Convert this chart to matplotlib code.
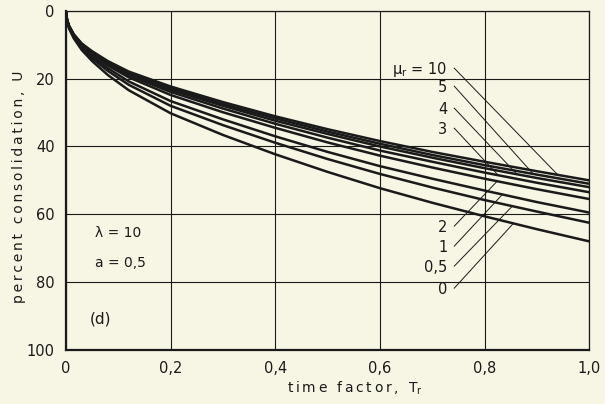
import numpy as np
import matplotlib
matplotlib.use("Agg")
import matplotlib.pyplot as plt

# time factor T_r
T = [0, 0.002, 0.006, 0.015, 0.03, 0.05, 0.08, 0.12, 0.2, 0.3,
     0.4, 0.5, 0.6, 0.7, 0.8, 0.9, 1.0]

# percent consolidation U for each mu_r
U_mu10 = [0, 2.5, 4.4, 6.9, 9.6, 11.9, 14.8, 17.9, 22.3, 26.9,
          31.1, 34.9, 38.4, 41.6, 44.5, 47.3, 50.0]
U_mu5 = [0, 2.5, 4.5, 7.0, 9.7, 12.1, 15.1, 18.2, 22.8, 27.5,
         31.7, 35.6, 39.2, 42.5, 45.5, 48.3, 51.0]
U_mu4 = [0, 2.6, 4.5, 7.1, 9.9, 12.3, 15.3, 18.5, 23.3, 28.0,
         32.4, 36.3, 40.0, 43.3, 46.4, 49.3, 52.0]
U_mu3 = [0, 2.6, 4.6, 7.2, 10.1, 12.6, 15.6, 19.0, 23.9, 28.8,
         33.3, 37.4, 41.2, 44.5, 47.7, 50.7, 53.5]
U_mu2 = [0, 2.7, 4.7, 7.3, 10.3, 12.9, 16.1, 19.6, 24.8, 29.9,
         34.5, 38.8, 42.7, 46.2, 49.5, 52.6, 55.5]
U_mu1 = [0, 2.8, 4.9, 7.6, 10.7, 13.5, 16.9, 20.8, 26.6, 32.0,
         37.0, 41.6, 45.8, 49.5, 53.0, 56.4, 59.5]
U_mu05 = [0, 2.9, 5.0, 7.8, 11.0, 14.0, 17.7, 21.8, 28.0, 33.7,
          38.9, 43.7, 48.1, 52.1, 55.8, 59.2, 62.5]
U_mu0 = [0, 3.0, 5.2, 8.1, 11.5, 14.8, 18.9, 23.4, 30.2, 36.6,
         42.3, 47.5, 52.3, 56.6, 60.6, 64.4, 68.0]

curves = [U_mu10, U_mu5, U_mu4, U_mu3, U_mu2, U_mu1, U_mu05, U_mu0]
labels = ["μ$_\\mathregular{r}$ = 10", "5", "4", "3", "2", "1", "0,5", "0"]
label_y = [17.4, 22.7, 29.2, 35.1, 64.0, 69.9, 75.8, 82.3]
leader_end_x = [0.94, 0.893, 0.862, 0.826, 0.824, 0.834, 0.853, 0.855]

xticks = [0, 0.2, 0.4, 0.6, 0.8, 1.0]
xtick_labels = ["0", "0,2", "0,4", "0,6", "0,8", "1,0"]
yticks = [0, 20, 40, 60, 80, 100]

paper = "#f7f5e3"
ink = "#1a1a1a"


def spaced(s):
    # loose letter spacing like the lettering stencil
    return "\u2009".join(s)


fig = plt.figure(figsize=(6.05, 4.04), dpi=100, facecolor=paper)
ax = fig.add_axes([0.109, 0.134, 0.865, 0.839], facecolor=paper)

for U in curves:
    ax.plot(T, U, color=ink, lw=1.8, solid_capstyle="round", zorder=3)

for lab, ly, ex, U in zip(labels, label_y, leader_end_x, curves):
    ax.text(0.729, ly, lab, ha="right", va="center", fontsize=10.5, color=ink)
    ey = np.interp(ex, T, U)
    ax.plot([0.742, ex], [ly - 0.5, ey], color=ink, lw=0.7, zorder=2)

ax.text(0.055, 65.5, "λ = 10", fontsize=10, color=ink, va="center")
ax.text(0.055, 74.3, "a = 0,5", fontsize=10, color=ink, va="center")
ax.text(0.045, 91, "(d)", fontsize=11, color=ink, va="center")

ax.set_xlim(0, 1.0)
ax.set_ylim(100, 0)
ax.set_xticks(xticks)
ax.set_xticklabels(xtick_labels)
ax.set_yticks(yticks)
ax.tick_params(length=0, labelsize=10.5, colors=ink, pad=8)
ax.grid(True, color=ink, lw=0.8)
ax.set_axisbelow(True)
for side in ["top", "right"]:
    ax.spines[side].set_linewidth(0.9)
for side in ["left", "bottom"]:
    ax.spines[side].set_linewidth(1.6)
for s in ax.spines.values():
    s.set_color(ink)

fig.text(0.587, 0.04, spaced("time factor,") + "\u2009\u2009 T$_\\mathregular{r}$",
         fontsize=10, color=ink, ha="center", va="center")
fig.text(0.032, 0.537, spaced("percent consolidation,") + "\u2009\u2009 U",
         fontsize=10, color=ink, ha="center", va="center", rotation=90)

fig.savefig("out.png", dpi=100, facecolor=paper)
